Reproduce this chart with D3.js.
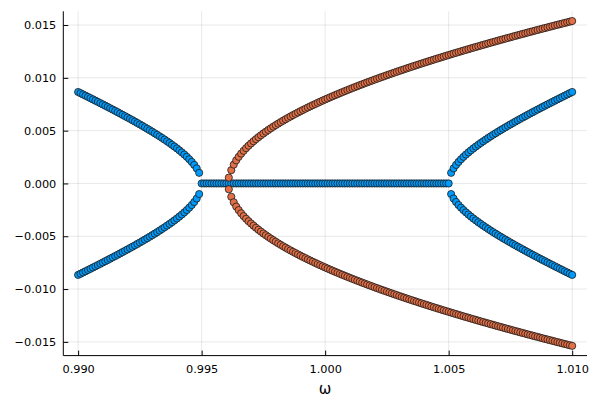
<!DOCTYPE html>
<html><head><meta charset="utf-8">
<script src="https://cdn.jsdelivr.net/npm/d3@7"></script>
<style>html,body{margin:0;padding:0;background:#fff;} svg{display:block;font-family:"DejaVu Sans",sans-serif;}</style>
</head><body><svg id="c" width="600" height="400"></svg>
<script>
// ---- data (amplitudes in units of 1e-3) ----
const omegaStep = 0.0001;
const blueLeftStart = 0.9900;   // branch 0.9900 .. 0.9950
const blueLeftAmp = [8.660,8.545,8.429,8.312,8.195,8.078,7.960,7.842,7.723,7.603,
  7.483,7.363,7.242,7.120,6.997,6.874,6.750,6.625,6.499,6.373,
  6.245,6.116,5.987,5.856,5.724,5.590,5.455,5.319,5.181,5.041,
  4.899,4.755,4.609,4.460,4.308,4.153,3.995,3.833,3.666,3.494,
  3.317,3.132,2.939,2.737,2.522,2.291,2.040,1.758,1.428,1.005,0];
const blueZeroStart = 0.9951;   // flat branch 0.9951 .. 1.0049
const blueZeroAmp = new Array(99).fill(0);
const blueRightStart = 1.0050;  // branch 1.0050 .. 1.0100
const blueRightAmp = [0,1.005,1.428,1.758,2.040,2.291,2.522,2.737,2.939,3.132,
  3.317,3.494,3.666,3.833,3.995,4.153,4.308,4.460,4.609,4.755,
  4.899,5.041,5.181,5.319,5.455,5.590,5.724,5.856,5.987,6.116,
  6.245,6.373,6.499,6.625,6.750,6.874,6.997,7.120,7.242,7.363,
  7.483,7.603,7.723,7.842,7.960,8.078,8.195,8.312,8.429,8.545,8.660];
const orangeStart = 0.9961;     // branch 0.9961 .. 1.0100
const orangeAmp = [0.55,1.261,1.784,2.186,2.524,2.823,3.093,3.342,3.574,3.791,
  3.997,4.194,4.381,4.561,4.735,4.902,5.064,5.221,5.374,5.523,
  5.667,5.809,5.947,6.082,6.215,6.344,6.472,6.596,6.719,6.840,
  6.958,7.075,7.190,7.303,7.415,7.525,7.634,7.741,7.847,7.952,
  8.055,8.157,8.258,8.358,8.456,8.554,8.651,8.746,8.841,8.935,
  9.028,9.120,9.211,9.301,9.391,9.480,9.568,9.655,9.742,9.828,
  9.914,9.998,10.082,10.166,10.249,10.331,10.413,10.494,10.574,10.655,
  10.734,10.813,10.892,10.970,11.047,11.124,11.201,11.277,11.353,11.428,
  11.503,11.577,11.652,11.725,11.798,11.871,11.944,12.016,12.088,12.159,
  12.230,12.301,12.371,12.441,12.511,12.580,12.650,12.718,12.787,12.855,
  12.923,12.990,13.058,13.125,13.191,13.258,13.324,13.390,13.456,13.521,
  13.586,13.651,13.715,13.780,13.844,13.908,13.972,14.035,14.098,14.161,
  14.224,14.287,14.349,14.411,14.473,14.534,14.596,14.657,14.718,14.779,
  14.840,14.900,14.961,15.021,15.081,15.140,15.200,15.259,15.318,15.378];
const xTicks = [0.990, 0.995, 1.000, 1.005, 1.010];
const yTicks = [-0.015, -0.010, -0.005, 0.000, 0.005, 0.010, 0.015];
const xLabel = "ω";

// ---- build point lists ----
function branch(start, amps, out) {
  amps.forEach((a, i) => {
    const w = +(start + i * omegaStep).toFixed(4);
    if (a === 0) out.push([w, 0]);
    else { out.push([w, a * 1e-3]); out.push([w, -a * 1e-3]); }
  });
  return out;
}
const bluePts = [];
branch(blueLeftStart, blueLeftAmp, bluePts);
branch(blueZeroStart, blueZeroAmp, bluePts);
branch(blueRightStart, blueRightAmp, bluePts);
const orangePts = [];
branch(orangeStart, orangeAmp, orangePts);
const all = bluePts.concat(orangePts);

// ---- scales ----
const xe = d3.extent(all, d => d[0]), ye = d3.extent(all, d => d[1]);
const xp = 0.03 * (xe[1] - xe[0]), yp = 0.03 * (ye[1] - ye[0]);
const L = 63.3, R = 587, T = 11.3, B = 355.6;
const x = d3.scaleLinear().domain([xe[0] - xp, xe[1] + xp]).range([L, R]);
const y = d3.scaleLinear().domain([ye[0] - yp, ye[1] + yp]).range([B, T]);
const fmt = d3.format(".3f");

const svg = d3.select("#c");
svg.append("rect").attr("width", 600).attr("height", 400).attr("fill", "#fff");

// grid
const g = svg.append("g");
g.selectAll(".gx").data(xTicks).join("line")
  .attr("x1", d => x(d)).attr("x2", d => x(d)).attr("y1", T).attr("y2", B)
  .attr("stroke", "#000").attr("stroke-opacity", 0.09).attr("stroke-width", 1);
g.selectAll(".gy").data(yTicks).join("line")
  .attr("y1", d => y(d)).attr("y2", d => y(d)).attr("x1", L).attr("x2", R)
  .attr("stroke", "#000").attr("stroke-opacity", 0.09).attr("stroke-width", 1);

// axes
const xAxis = d3.axisBottom(x).tickValues(xTicks).tickFormat(fmt).tickSizeInner(-5).tickSizeOuter(0).tickPadding(12);
const yAxis = d3.axisLeft(y).tickValues(yTicks).tickFormat(fmt).tickSizeInner(-5).tickSizeOuter(0).tickPadding(12);
const gx = svg.append("g").attr("transform", `translate(0,${B})`).call(xAxis);
const gy = svg.append("g").attr("transform", `translate(${L},0)`).call(yAxis);
[gx, gy].forEach(a => {
  a.select(".domain").remove();
  a.selectAll("text").attr("font-family", "DejaVu Sans, sans-serif").attr("font-size", 11.3).attr("fill", "#000");
  a.selectAll("line").attr("stroke", "#000");
});
gx.selectAll("text").attr("dy", "0.71em").attr("y", 9);
gy.selectAll("text").attr("x", -7);
svg.append("line").attr("x1", L).attr("x2", R).attr("y1", B).attr("y2", B).attr("stroke", "#000");
svg.append("line").attr("x1", L).attr("x2", L).attr("y1", T).attr("y2", B).attr("stroke", "#000");

svg.append("text").attr("x", (L + R) / 2).attr("y", 394).attr("text-anchor", "middle")
  .attr("font-size", 15).attr("fill", "#000").text(xLabel);

// points
const pg = svg.append("g");
pg.selectAll(".b").data(bluePts).join("circle")
  .attr("cx", d => x(d[0])).attr("cy", d => y(d[1])).attr("r", 3.6)
  .attr("fill", "#009AFA").attr("stroke", "#1a1a1a").attr("stroke-width", 0.8);
pg.selectAll(".o").data(orangePts).join("circle")
  .attr("cx", d => x(d[0])).attr("cy", d => y(d[1])).attr("r", 3.6)
  .attr("fill", "#E26F46").attr("stroke", "#1a1a1a").attr("stroke-width", 0.8);
</script></body></html>
